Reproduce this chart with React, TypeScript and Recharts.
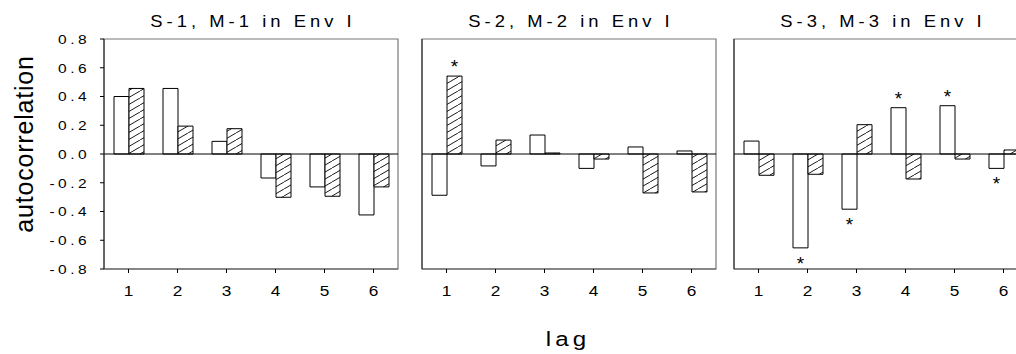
import React from 'react';
import { BarChart, Bar, XAxis, YAxis, ReferenceLine, ReferenceArea, LabelList } from 'recharts';

// lag categories and autocorrelation values
const LAGS = [1, 2, 3, 4, 5, 6];
const TITLES = ['S-1, M-1 in Env I', 'S-2, M-2 in Env I', 'S-3, M-3 in Env I'];
const Y_TICKS = [-0.8, -0.6, -0.4, -0.2, 0, 0.2, 0.4, 0.6, 0.8];

const P1_OPEN = [0.4, 0.456, 0.088, -0.167, -0.229, -0.424];
const P1_HATCH = [0.456, 0.194, 0.176, -0.301, -0.294, -0.229];
const P2_OPEN = [-0.287, -0.083, 0.132, -0.1, 0.049, 0.021];
const P2_HATCH = [0.542, 0.097, 0.007, -0.035, -0.271, -0.264];
const P3_OPEN = [0.09, -0.653, -0.384, 0.322, 0.336, -0.1];
const P3_HATCH = [-0.148, -0.141, 0.204, -0.174, -0.035, 0.028];

// significance marks (*)
const P1_OPEN_SIG = [0, 0, 0, 0, 0, 0];
const P1_HATCH_SIG = [0, 0, 0, 0, 0, 0];
const P2_OPEN_SIG = [0, 0, 0, 0, 0, 0];
const P2_HATCH_SIG = [1, 0, 0, 0, 0, 0];
const P3_OPEN_SIG = [0, 1, 1, 1, 1, 1];
const P3_HATCH_SIG = [0, 0, 0, 0, 0, 0];

const FONT = '"Liberation Sans", Arial, sans-serif';
const PLOT_LEFT = [104, 422, 734];
const WIDE = 1.15; // the original's lettering is drawn a bit wide

const panels = [
  { open: P1_OPEN, hatch: P1_HATCH, openSig: P1_OPEN_SIG, hatchSig: P1_HATCH_SIG },
  { open: P2_OPEN, hatch: P2_HATCH, openSig: P2_OPEN_SIG, hatchSig: P2_HATCH_SIG },
  { open: P3_OPEN, hatch: P3_HATCH, openSig: P3_OPEN_SIG, hatchSig: P3_HATCH_SIG },
];

const XTick = (props: any) => {
  const { x, y, payload } = props;
  return (
    <text
      transform={`translate(${x},${y}) scale(${WIDE},1)`}
      textAnchor="middle"
      dy="0.71em"
      fontSize={15}
      fontFamily={FONT}
      fill="#000"
    >
      {payload.value}
    </text>
  );
};

const YTick = (props: any) => {
  const { x, y, payload } = props;
  return (
    <text
      transform={`translate(${x},${y}) scale(${WIDE},1)`}
      textAnchor="end"
      dy="0.355em"
      fontSize={13.5}
      letterSpacing={3}
      fontFamily={FONT}
      fill="#000"
    >
      {Number(payload.value).toFixed(1)}
    </text>
  );
};

const starLabel = (flags: number[], values: number[]) => (props: any) => {
  const { index } = props;
  if (!flags[index]) return null;
  const vb = props.viewBox || {};
  const x = props.x ?? vb.x;
  const y = props.y ?? vb.y;
  const w = props.width ?? vb.width;
  const h = props.height ?? vb.height;
  const pos = values[index] >= 0;
  const end = pos ? Math.min(y, y + h) : Math.max(y, y + h);
  return (
    <text
      x={x + w / 2}
      y={pos ? end - 3 : end + 22}
      textAnchor="middle"
      fontSize={19}
      fontFamily={FONT}
      fill="#000"
    >
      *
    </text>
  );
};

const Panel = ({ idx }: { idx: number }) => {
  const p = panels[idx];
  const data = LAGS.map((lag, i) => ({ lag, open: p.open[i], hatch: p.hatch[i] }));
  const pid = `hatch${idx}`;
  return (
    <div style={{ position: 'absolute', left: PLOT_LEFT[idx] - 60, top: 0 }}>
      <BarChart
        width={364}
        height={309}
        data={data}
        margin={{ top: 39, right: 10, bottom: 0, left: 0 }}
        barGap={0}
        barSize={15}
      >
        <defs>
          <pattern id={pid} patternUnits="userSpaceOnUse" width="12" height="7">
            <rect width="12" height="7" fill="#fff" />
            <path d="M-12,14 L24,-7 M-12,7 L0,0 M12,14 L24,7" stroke="#000" strokeWidth="0.9" />
          </pattern>
        </defs>
        {/* frame: gray box around the plot */}
        <ReferenceArea y1={-0.8} y2={0.8} fill="none" stroke="#777" strokeWidth={1.2} ifOverflow="visible" />
        <XAxis
          dataKey="lag"
          height={40}
          axisLine={{ stroke: '#555' }}
          tickLine={{ stroke: '#000' }}
          tickSize={4}
          tickMargin={12}
          tick={<XTick />}
        />
        <YAxis
          width={60}
          domain={[-0.8, 0.8]}
          ticks={Y_TICKS}
          interval={0}
          axisLine={{ stroke: '#222' }}
          tickLine={{ stroke: '#000' }}
          tickSize={4}
          tickMargin={10}
          tick={idx === 0 ? <YTick /> : false}
        />
        <ReferenceLine y={0} stroke="#000" strokeWidth={1} />
        <Bar dataKey="open" fill="#fff" stroke="#000" strokeWidth={1} isAnimationActive={false}>
          <LabelList dataKey="open" content={starLabel(p.openSig, p.open)} />
        </Bar>
        <Bar dataKey="hatch" fill={`url(#${pid})`} stroke="#000" strokeWidth={1} isAnimationActive={false}>
          <LabelList dataKey="hatch" content={starLabel(p.hatchSig, p.hatch)} />
        </Bar>
      </BarChart>
    </div>
  );
};

export default function App() {
  return (
    <div
      style={{
        position: 'fixed',
        left: 0,
        top: 0,
        width: 1016,
        height: 354,
        overflow: 'hidden',
        background: '#fff',
        fontFamily: FONT,
      }}
    >
      {[0, 1, 2].map((i) => (
        <Panel key={i} idx={i} />
      ))}
      <svg
        width={1016}
        height={354}
        style={{ position: 'absolute', left: 0, top: 0, pointerEvents: 'none' }}
      >
        {TITLES.map((t, i) => (
          <text
            key={t}
            transform={`translate(${PLOT_LEFT[i] + 147 + 2},27) scale(${WIDE},1)`}
            textAnchor="middle"
            fontSize={16}
            letterSpacing={3.5}
            fontFamily={FONT}
            fill="#000"
          >
            {t}
          </text>
        ))}
        <text
          x={33}
          y={144}
          transform="rotate(-90 33 144)"
          textAnchor="middle"
          fontSize={25}
          letterSpacing={0.8}
          fontFamily={FONT}
          fill="#000"
        >
          autocorrelation
        </text>
        <text
          transform={`translate(568,346) scale(${WIDE},1)`}
          textAnchor="middle"
          fontSize={21}
          letterSpacing={3.5}
          fontFamily={FONT}
          fill="#000"
        >
          lag
        </text>
      </svg>
    </div>
  );
}
